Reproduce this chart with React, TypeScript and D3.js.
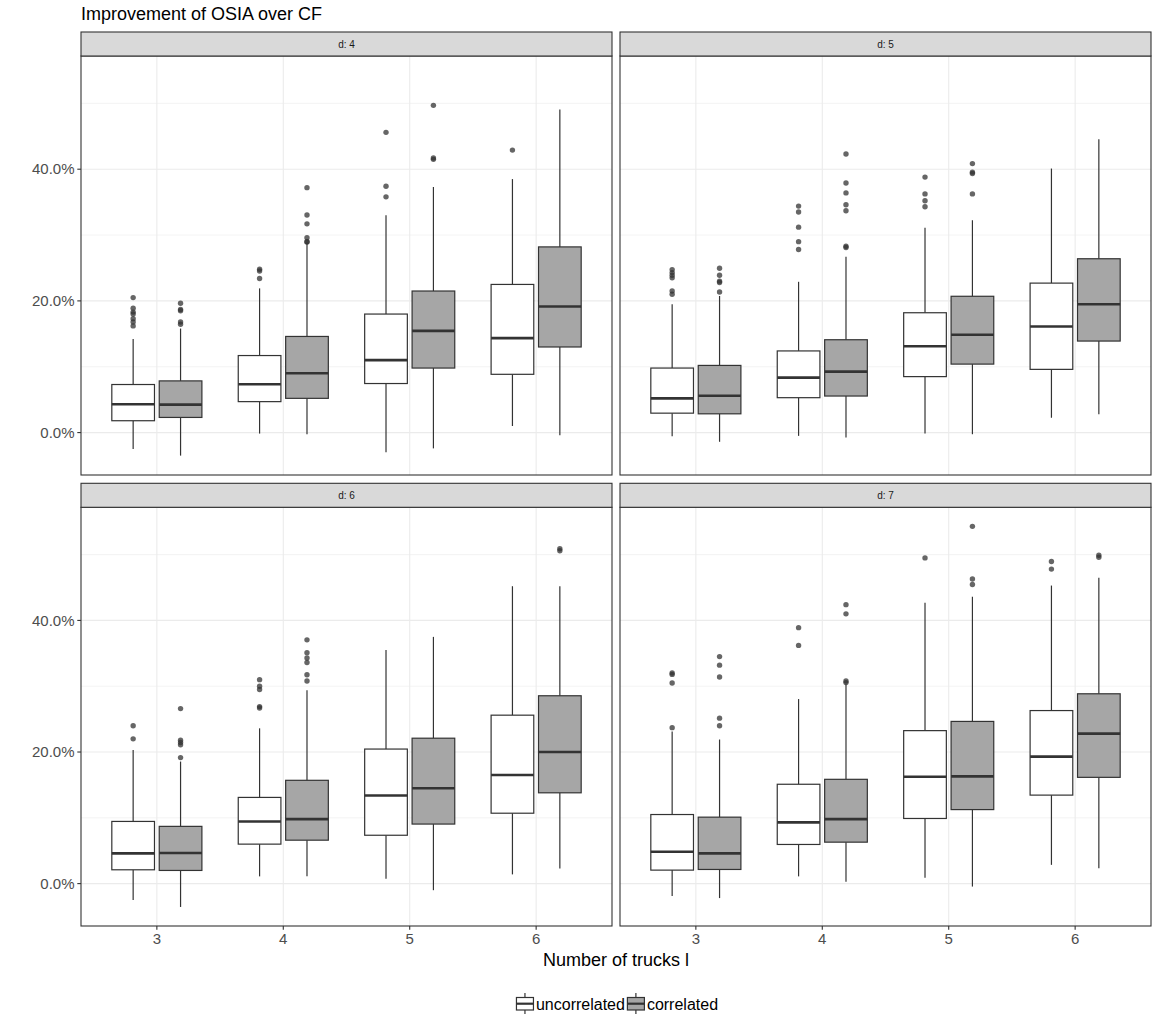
import React from "react";
import * as d3 from "d3";

const facetLabels = ["d: 4", "d: 5", "d: 6", "d: 7"];
const truckCounts = ["3", "4", "5", "6"];
const groups = ["uncorrelated", "correlated"];

// Box statistics in percent: [lower whisker, q1, median, q3, upper whisker].
// Rows run 3 unc, 3 cor, 4 unc, 4 cor, 5 unc, 5 cor, 6 unc, 6 cor.
const d4Boxes = [
  [-2.5, 1.8, 4.3, 7.3, 14.2],
  [-3.5, 2.3, 4.25, 7.85, 15.8],
  [-0.15, 4.7, 7.35, 11.7, 21.9],
  [-0.25, 5.2, 9.0, 14.6, 28.85],
  [-3.0, 7.45, 11.0, 18.0, 33.0],
  [-2.4, 9.8, 15.45, 21.5, 37.3],
  [1.0, 8.85, 14.35, 22.5, 38.5],
  [-0.4, 13.0, 19.15, 28.2, 49.05],
];
const d4Outliers = [
  [20.5, 18.9, 18.3, 18.0, 17.3, 16.8, 16.2],
  [19.65, 18.7, 18.5, 16.8, 16.45],
  [24.8, 24.55, 23.4],
  [37.2, 33.05, 31.7, 29.6, 29.0, 28.95],
  [45.6, 37.4, 35.8],
  [49.7, 41.7, 41.5],
  [42.9],
  [],
];

const d5Boxes = [
  [-0.55, 2.95, 5.2, 9.8, 19.5],
  [-1.4, 2.85, 5.6, 10.2, 20.75],
  [-0.5, 5.3, 8.35, 12.4, 22.9],
  [-0.75, 5.55, 9.25, 14.1, 26.7],
  [-0.15, 8.5, 13.1, 18.2, 31.1],
  [-0.25, 10.4, 14.85, 20.7, 32.25],
  [2.25, 9.6, 16.1, 22.7, 40.1],
  [2.8, 13.9, 19.5, 26.4, 44.55],
];
const d5Outliers = [
  [24.75, 24.3, 23.9, 23.5, 21.5, 21.0],
  [24.95, 23.9, 23.0, 22.8, 21.35],
  [34.4, 33.5, 31.2, 29.0, 27.8],
  [42.3, 37.9, 36.4, 34.6, 33.7, 28.3, 28.1],
  [38.8, 36.25, 35.2, 34.3],
  [40.85, 39.55, 39.35, 36.25],
  [],
  [],
];

const d6Boxes = [
  [-2.5, 2.1, 4.6, 9.45, 20.3],
  [-3.55, 2.0, 4.65, 8.7, 18.55],
  [1.1, 6.0, 9.45, 13.1, 23.6],
  [1.1, 6.6, 9.8, 15.7, 29.4],
  [0.75, 7.35, 13.4, 20.45, 35.5],
  [-1.0, 9.05, 14.5, 22.1, 37.5],
  [1.4, 10.7, 16.5, 25.6, 45.2],
  [2.3, 13.8, 20.0, 28.55, 45.2],
];
const d6Outliers = [
  [24.0, 22.0],
  [26.6, 21.8, 21.45, 21.1, 19.15],
  [31.0, 30.0, 29.5, 26.9, 26.7],
  [37.05, 35.1, 34.3, 33.6, 31.75, 30.8],
  [],
  [],
  [],
  [50.9, 50.6],
];

const d7Boxes = [
  [-1.9, 2.05, 4.85, 10.5, 23.1],
  [-2.2, 2.15, 4.6, 10.1, 21.9],
  [1.1, 5.95, 9.3, 15.1, 28.05],
  [0.3, 6.3, 9.8, 15.85, 30.3],
  [0.9, 9.9, 16.25, 23.25, 42.7],
  [-0.45, 11.25, 16.3, 24.65, 43.6],
  [2.85, 13.45, 19.3, 26.3, 45.3],
  [2.35, 16.15, 22.8, 28.85, 46.5],
];
const d7Outliers = [
  [32.0, 31.8, 30.5, 23.7],
  [34.5, 33.2, 31.4, 25.15, 24.0],
  [38.9, 36.2],
  [42.4, 41.0, 30.8, 30.55],
  [49.5],
  [54.3, 46.3, 45.45],
  [48.95, 47.8],
  [49.9, 49.6],
];

const facetBoxes = [d4Boxes, d5Boxes, d6Boxes, d7Boxes];
const facetOutliers = [d4Outliers, d5Outliers, d6Outliers, d7Outliers];

const W = 1159;
const H = 1030;
const FONT = "'Liberation Sans', Arial, Helvetica, sans-serif";
const groupFill: Record<string, string> = { uncorrelated: "#ffffff", correlated: "#a6a6a6" };
const INK = "#333333";

// panel frames: columns and rows of the 2x2 facet grid
const cols: [number, number][] = [[81, 612], [620, 1151]];
const rows: [number, number][] = [[56, 475], [507.3, 926]];
const STRIP_H = 24;

const pct = d3.format(".1%");

function measure(text: string, size: number) {
  const ctx = document.createElement("canvas").getContext("2d");
  if (!ctx) return text.length * size * 0.55;
  ctx.font = `${size}px ${FONT}`;
  return ctx.measureText(text).width;
}

export default function App() {
  // shared y range across facets, with ggplot-style 5% expansion
  const all: number[] = [];
  facetBoxes.forEach((bs) => bs.forEach((b) => all.push(b[0], b[4])));
  facetOutliers.forEach((os) => os.forEach((o) => all.push(...o)));
  const lo = d3.min(all)! / 100;
  const hi = d3.max(all)! / 100;
  const pad = (hi - lo) * 0.05;
  const yDomain: [number, number] = [lo - pad, hi + pad];

  const majorTicks = d3.ticks(yDomain[0], yDomain[1], 3);
  const majStep = majorTicks[1] - majorTicks[0];
  const minorTicks = d3
    .range(majorTicks[0] - majStep / 2, yDomain[1], majStep)
    .filter((v) => v > yDomain[0] && v < yDomain[1]);

  const legendSize = 16;
  const w1 = measure(groups[0], legendSize);
  const w2 = measure(groups[1], legendSize);
  const keyW = 20;
  const legendTotal = keyW + w1 + 2 + keyW + w2;
  const plotCenter = (cols[0][0] + cols[1][1]) / 2;
  let lx = plotCenter - legendTotal / 2;
  const legendItems = groups.map((g, i) => {
    const item = { g, x: lx, tx: lx + keyW + 1 };
    lx += keyW + (i === 0 ? w1 + 2 : w2);
    return item;
  });

  return (
    <svg
      width={W}
      height={H}
      style={{ position: "absolute", left: 0, top: 0, background: "#fff" }}
      fontFamily={FONT}
    >
      <rect width={W} height={H} fill="#fff" />
      <text x={81} y={20} fontSize={18} fill="#000">
        Improvement of OSIA over CF
      </text>

      {facetLabels.map((label, fi) => {
        const [x0, x1] = cols[fi % 2];
        const [y0, y1] = rows[Math.floor(fi / 2)];
        const x = d3.scalePoint<string>().domain(truckCounts).range([x0, x1]).padding(0.6);
        const y = d3.scaleLinear().domain(yDomain).range([y1, y0]);
        const step = x.step();
        const slot = 0.375 * step;
        const bw = slot * 0.9;
        const boxes = facetBoxes[fi];
        const outs = facetOutliers[fi];
        const isLeft = fi % 2 === 0;
        const isBottom = fi >= 2;

        return (
          <g key={label}>
            <rect x={x0} y={y0} width={x1 - x0} height={y1 - y0} fill="#fff" />
            {minorTicks.map((t) => (
              <line key={"mi" + t} x1={x0} x2={x1} y1={y(t)} y2={y(t)} stroke="#ebebeb" strokeWidth={0.6} />
            ))}
            {majorTicks.map((t) => (
              <line key={"ma" + t} x1={x0} x2={x1} y1={y(t)} y2={y(t)} stroke="#ebebeb" strokeWidth={1.1} />
            ))}
            {truckCounts.map((tc) => (
              <line key={"v" + tc} x1={x(tc)!} x2={x(tc)!} y1={y0} y2={y1} stroke="#ebebeb" strokeWidth={1.1} />
            ))}

            {boxes.map((b, bi) => {
              const tc = truckCounts[Math.floor(bi / 2)];
              const g = groups[bi % 2];
              const cx = x(tc)! + (bi % 2 === 0 ? -0.5 : 0.5) * slot;
              const [wl, q1, med, q3, wh] = b.map((v) => y(v / 100));
              return (
                <g key={"b" + bi}>
                  <line x1={cx} x2={cx} y1={wh} y2={q3} stroke={INK} strokeWidth={1.2} />
                  <line x1={cx} x2={cx} y1={q1} y2={wl} stroke={INK} strokeWidth={1.2} />
                  <rect
                    x={cx - bw / 2}
                    y={q3}
                    width={bw}
                    height={q1 - q3}
                    fill={groupFill[g]}
                    stroke={INK}
                    strokeWidth={1.2}
                  />
                  <line x1={cx - bw / 2} x2={cx + bw / 2} y1={med} y2={med} stroke={INK} strokeWidth={2.6} />
                  {outs[bi].map((o, oi) => (
                    <circle key={oi} cx={cx} cy={y(o / 100)} r={2.7} fill={INK} fillOpacity={0.75} />
                  ))}
                </g>
              );
            })}

            <rect x={x0} y={y0} width={x1 - x0} height={y1 - y0} fill="none" stroke={INK} strokeWidth={1.1} />
            <rect
              x={x0}
              y={y0 - STRIP_H}
              width={x1 - x0}
              height={STRIP_H}
              fill="#d9d9d9"
              stroke={INK}
              strokeWidth={1.1}
            />
            <text
              x={(x0 + x1) / 2}
              y={y0 - STRIP_H / 2}
              dy="0.35em"
              textAnchor="middle"
              fontSize={10}
              fill="#1a1a1a"
            >
              {label}
            </text>

            {isLeft &&
              majorTicks.map((t) => (
                <g key={"yt" + t}>
                  <line x1={x0 - 3.7} x2={x0} y1={y(t)} y2={y(t)} stroke={INK} strokeWidth={1.1} />
                  <text x={x0 - 6.5} y={y(t)} dy="0.35em" textAnchor="end" fontSize={15} fill="#4d4d4d">
                    {pct(t)}
                  </text>
                </g>
              ))}
            {isBottom &&
              truckCounts.map((tc) => (
                <g key={"xt" + tc}>
                  <line x1={x(tc)!} x2={x(tc)!} y1={y1} y2={y1 + 3.7} stroke={INK} strokeWidth={1.1} />
                  <text x={x(tc)!} y={y1 + 18} textAnchor="middle" fontSize={15} fill="#4d4d4d">
                    {tc}
                  </text>
                </g>
              ))}
          </g>
        );
      })}

      <text x={plotCenter} y={966} textAnchor="middle" fontSize={18} fill="#000">
        Number of trucks l
      </text>

      {legendItems.map((it) => {
        const cx = it.x + keyW / 2;
        return (
          <g key={it.g}>
            <line x1={cx} x2={cx} y1={993} y2={1014} stroke={INK} strokeWidth={1.2} />
            <rect x={it.x + 1.5} y={997.5} width={keyW - 3} height={12.5} fill={groupFill[it.g]} stroke={INK} strokeWidth={1.2} />
            <line x1={it.x + 1.5} x2={it.x + keyW - 1.5} y1={1003.7} y2={1003.7} stroke={INK} strokeWidth={2.2} />
            <text x={it.tx} y={1009.5} fontSize={legendSize} fill="#000">
              {it.g}
            </text>
          </g>
        );
      })}
    </svg>
  );
}
